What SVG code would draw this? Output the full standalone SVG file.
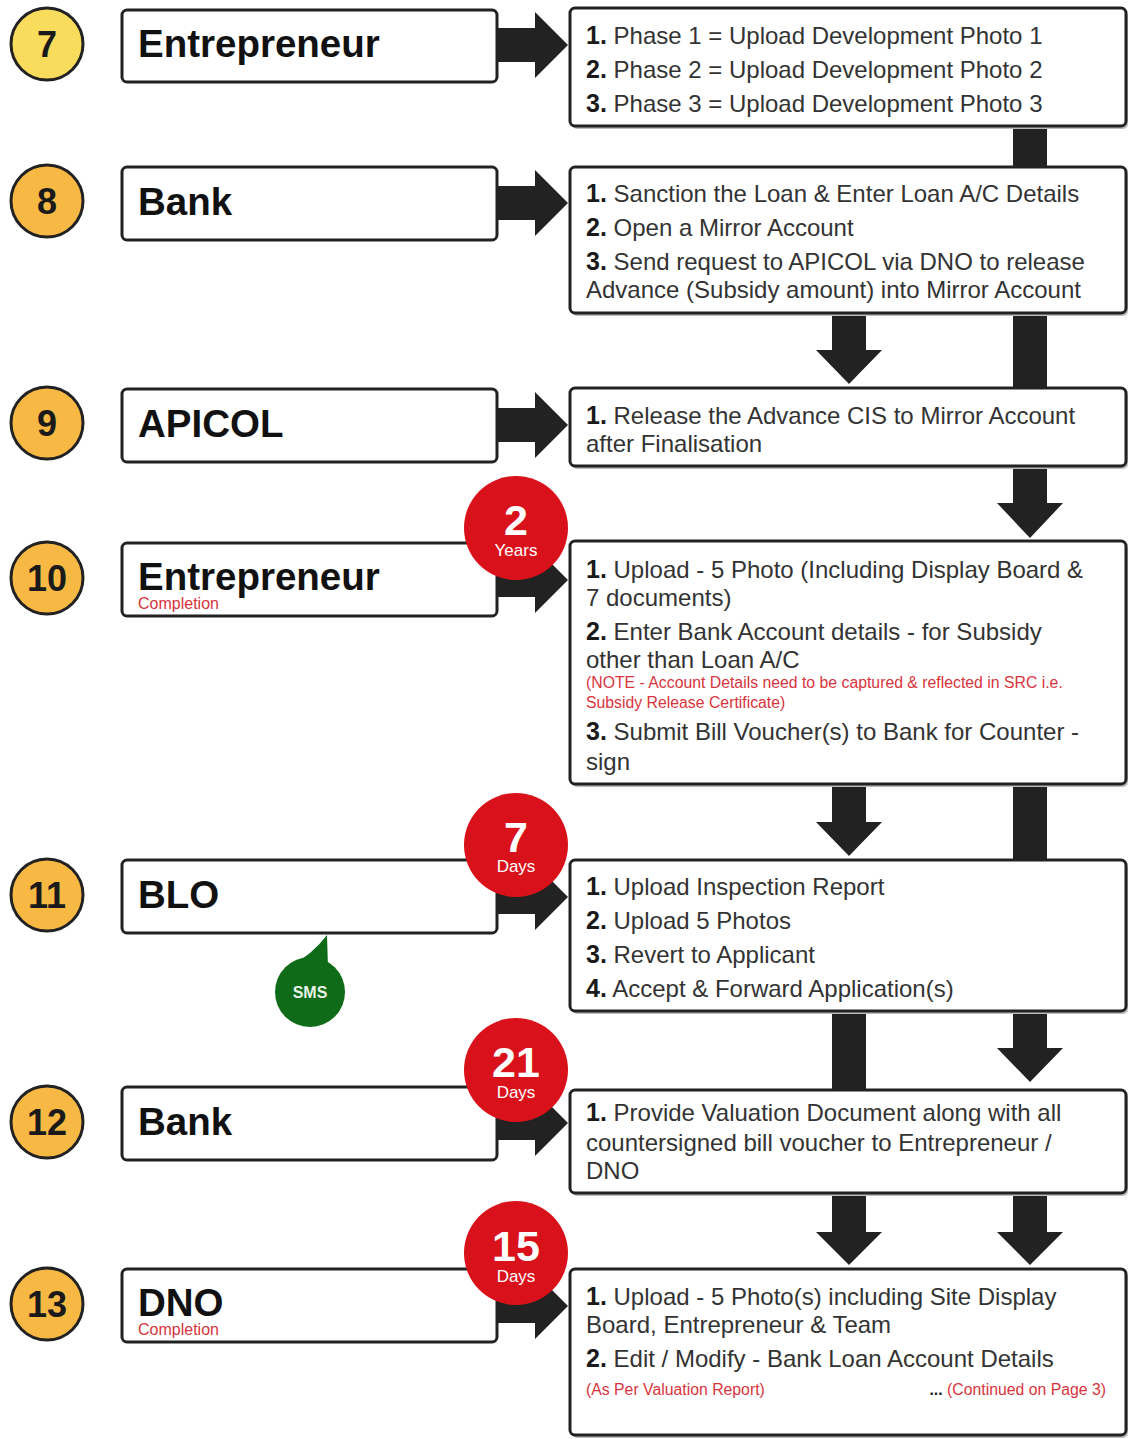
<svg xmlns="http://www.w3.org/2000/svg" width="1128" height="1439" viewBox="0 0 1128 1439">
<style>
.lb{fill:#fff;stroke:#222;stroke-width:3}
.rb{fill:#fff;stroke:#222;stroke-width:3}
.sh{fill:#bbb}
.ar{fill:#222}
.num{font-family:"Liberation Sans",Arial,sans-serif;font-weight:bold;font-size:36px;fill:#1a1a1a;text-anchor:middle}
.ttl{font-family:"Liberation Sans",Arial,sans-serif;font-weight:bold;font-size:38.5px;fill:#111}
.t{font-family:"Liberation Sans",Arial,sans-serif;font-size:24px;fill:#333}
.b{font-weight:bold;font-size:25px;fill:#1a1a1a}
.red{font-family:"Liberation Sans",Arial,sans-serif;font-size:15.8px;fill:#d8343c}
.comp{font-family:"Liberation Sans",Arial,sans-serif;font-size:16px;fill:#d8343c}
.bd{fill:#d9111b}
.bn{font-family:"Liberation Sans",Arial,sans-serif;font-weight:bold;font-size:43px;fill:#fff;text-anchor:middle}
.bu{font-family:"Liberation Sans",Arial,sans-serif;font-size:17px;fill:#fff;text-anchor:middle}
.c1{fill:#f9dc5c;stroke:#222;stroke-width:3}
.c2{fill:#f7b944;stroke:#222;stroke-width:3}
</style>

<g id="connectors">
  <path class="ar" d="M497 28 H535 V12 L568 45 L535 78 V62 H497 Z"/>
  <path class="ar" d="M497 186 H535 V170 L568 203 L535 236 V220 H497 Z"/>
  <path class="ar" d="M497 408 H535 V392 L568 425 L535 458 V442 H497 Z"/>
  <path class="ar" d="M497 563 H535 V547 L568 580 L535 613 V597 H497 Z"/>
  <path class="ar" d="M497 880 H535 V864 L568 897 L535 930 V914 H497 Z"/>
  <path class="ar" d="M497 1106 H535 V1090 L568 1123 L535 1156 V1140 H497 Z"/>
  <path class="ar" d="M497 1289 H535 V1273 L568 1306 L535 1339 V1323 H497 Z"/>
  <rect class="ar" x="1013" y="126" width="34" height="42"/>
  <path class="ar" d="M832 313 H866 V350 H882 L849 384 L816 350 H832 Z"/>
  <rect class="ar" x="1013" y="313" width="34" height="76"/>
  <path class="ar" d="M1013 466 H1047 V503 H1063 L1030 538 L997 503 H1013 Z"/>
  <path class="ar" d="M832 784 H866 V822 H882 L849 856 L816 822 H832 Z"/>
  <rect class="ar" x="1013" y="784" width="34" height="77"/>
  <rect class="ar" x="832" y="1011" width="34" height="80"/>
  <path class="ar" d="M1013 1011 H1047 V1048 H1063 L1030 1082 L997 1048 H1013 Z"/>
  <path class="ar" d="M832 1193 H866 V1232 H882 L849 1265 L816 1232 H832 Z"/>
  <path class="ar" d="M1013 1193 H1047 V1232 H1063 L1030 1265 L997 1232 H1013 Z"/>
</g>

<g id="step7">
  <circle class="c1" cx="47" cy="44" r="36"/>
  <text class="num" x="47" y="57">7</text>
  <rect class="lb" x="122" y="10" width="375" height="72" rx="5"/>
  <text class="ttl" x="138" y="57">Entrepreneur</text>
  <rect class="sh" x="572" y="11" width="556" height="118" rx="5"/>
  <rect class="rb" x="570" y="8" width="556" height="118" rx="5"/>
  <text class="t" x="586" y="44"><tspan class="b">1.</tspan> Phase 1 = Upload Development Photo 1</text>
  <text class="t" x="586" y="78"><tspan class="b">2.</tspan> Phase 2 = Upload Development Photo 2</text>
  <text class="t" x="586" y="112"><tspan class="b">3.</tspan> Phase 3 = Upload Development Photo 3</text>
</g>

<g id="step8">
  <circle class="c2" cx="47" cy="201" r="36"/>
  <text class="num" x="47" y="214">8</text>
  <rect class="lb" x="122" y="167" width="375" height="73" rx="5"/>
  <text class="ttl" x="138" y="215">Bank</text>
  <rect class="sh" x="572" y="170" width="556" height="146" rx="5"/>
  <rect class="rb" x="570" y="167" width="556" height="146" rx="5"/>
  <text class="t" x="586" y="202"><tspan class="b">1.</tspan> Sanction the Loan &amp; Enter Loan A/C Details</text>
  <text class="t" x="586" y="236"><tspan class="b">2.</tspan> Open a Mirror Account</text>
  <text class="t" x="586" y="270"><tspan class="b">3.</tspan> Send request to APICOL via DNO to release</text>
  <text class="t" x="586" y="298">Advance (Subsidy amount) into Mirror Account</text>
</g>

<g id="step9">
  <circle class="c2" cx="47" cy="423" r="36"/>
  <text class="num" x="47" y="436">9</text>
  <rect class="lb" x="122" y="389" width="375" height="73" rx="5"/>
  <text class="ttl" x="138" y="437">APICOL</text>
  <rect class="sh" x="572" y="391" width="556" height="78" rx="5"/>
  <rect class="rb" x="570" y="388" width="556" height="78" rx="5"/>
  <text class="t" x="586" y="424"><tspan class="b">1.</tspan> Release the Advance CIS to Mirror Account</text>
  <text class="t" x="586" y="452">after Finalisation</text>
</g>

<g id="step10">
  <circle class="c2" cx="47" cy="578" r="36"/>
  <text class="num" x="47" y="591">10</text>
  <rect class="lb" x="122" y="543" width="375" height="73" rx="5"/>
  <text class="ttl" x="138" y="590">Entrepreneur</text>
  <text class="comp" x="138" y="609">Completion</text>
  <rect class="sh" x="572" y="544" width="556" height="243" rx="5"/>
  <rect class="rb" x="570" y="541" width="556" height="243" rx="5"/>
  <text class="t" x="586" y="578"><tspan class="b">1.</tspan> Upload - 5 Photo (Including Display Board &amp;</text>
  <text class="t" x="586" y="606">7 documents)</text>
  <text class="t" x="586" y="640"><tspan class="b">2.</tspan> Enter Bank Account details - for Subsidy</text>
  <text class="t" x="586" y="668">other than Loan A/C</text>
  <text class="red" x="586" y="688">(NOTE - Account Details need to be captured &amp; reflected in SRC i.e.</text>
  <text class="red" x="586" y="708">Subsidy Release Certificate)</text>
  <text class="t" x="586" y="740"><tspan class="b">3.</tspan> Submit Bill Voucher(s) to Bank for Counter -</text>
  <text class="t" x="586" y="770">sign</text>
</g>

<g id="step11">
  <circle class="c2" cx="47" cy="895" r="36"/>
  <text class="num" x="47" y="908">11</text>
  <rect class="lb" x="122" y="860" width="375" height="73" rx="5"/>
  <text class="ttl" x="138" y="908">BLO</text>
  <rect class="sh" x="572" y="863" width="556" height="151" rx="5"/>
  <rect class="rb" x="570" y="860" width="556" height="151" rx="5"/>
  <text class="t" x="586" y="895"><tspan class="b">1.</tspan> Upload Inspection Report</text>
  <text class="t" x="586" y="929"><tspan class="b">2.</tspan> Upload 5 Photos</text>
  <text class="t" x="586" y="963"><tspan class="b">3.</tspan> Revert to Applicant</text>
  <text class="t" x="586" y="997"><tspan class="b">4.</tspan> Accept &amp; Forward Application(s)</text>
</g>

<g id="sms">
  <path d="M327 935 L328 968 L290 966 Q312 955 327 935 Z" fill="#0f6b17"/>
  <circle cx="310" cy="992" r="35" fill="#0f6b17"/>
  <text x="310" y="998" font-family="Liberation Sans, Arial, sans-serif" font-weight="bold" font-size="16" fill="#e8f2e8" text-anchor="middle">SMS</text>
</g>

<g id="step12">
  <circle class="c2" cx="47" cy="1122" r="36"/>
  <text class="num" x="47" y="1135">12</text>
  <rect class="lb" x="122" y="1087" width="375" height="73" rx="5"/>
  <text class="ttl" x="138" y="1135">Bank</text>
  <rect class="sh" x="572" y="1093" width="556" height="103" rx="5"/>
  <rect class="rb" x="570" y="1090" width="556" height="103" rx="5"/>
  <text class="t" x="586" y="1121"><tspan class="b">1.</tspan> Provide Valuation Document along with all</text>
  <text class="t" x="586" y="1151">countersigned bill voucher to Entrepreneur /</text>
  <text class="t" x="586" y="1179">DNO</text>
</g>

<g id="step13">
  <circle class="c2" cx="47" cy="1304" r="36"/>
  <text class="num" x="47" y="1317">13</text>
  <rect class="lb" x="122" y="1269" width="375" height="73" rx="5"/>
  <text class="ttl" x="138" y="1316">DNO</text>
  <text class="comp" x="138" y="1335">Completion</text>
  <rect class="sh" x="572" y="1272" width="556" height="166" rx="5"/>
  <rect class="rb" x="570" y="1269" width="556" height="166" rx="5"/>
  <text class="t" x="586" y="1305"><tspan class="b">1.</tspan> Upload - 5 Photo(s) including Site Display</text>
  <text class="t" x="586" y="1333">Board, Entrepreneur &amp; Team</text>
  <text class="t" x="586" y="1367"><tspan class="b">2.</tspan> Edit / Modify - Bank Loan Account Details</text>
  <text class="red" x="586" y="1395">(As Per Valuation Report)</text>
  <text class="red" x="1106" y="1395" text-anchor="end"><tspan fill="#222" font-weight="bold">...</tspan> (Continued on Page 3)</text>
</g>

<g id="badge-2years">
  <circle class="bd" cx="516" cy="528" r="52"/>
  <text class="bn" x="516" y="535">2</text>
  <text class="bu" x="516" y="556">Years</text>
</g>
<g id="badge-7days">
  <circle class="bd" cx="516" cy="845" r="52"/>
  <text class="bn" x="516" y="852">7</text>
  <text class="bu" x="516" y="872">Days</text>
</g>
<g id="badge-21days">
  <circle class="bd" cx="516" cy="1070" r="52"/>
  <text class="bn" x="516" y="1077">21</text>
  <text class="bu" x="516" y="1098">Days</text>
</g>
<g id="badge-15days">
  <circle class="bd" cx="516" cy="1253" r="52"/>
  <text class="bn" x="516" y="1261">15</text>
  <text class="bu" x="516" y="1282">Days</text>
</g>
</svg>
